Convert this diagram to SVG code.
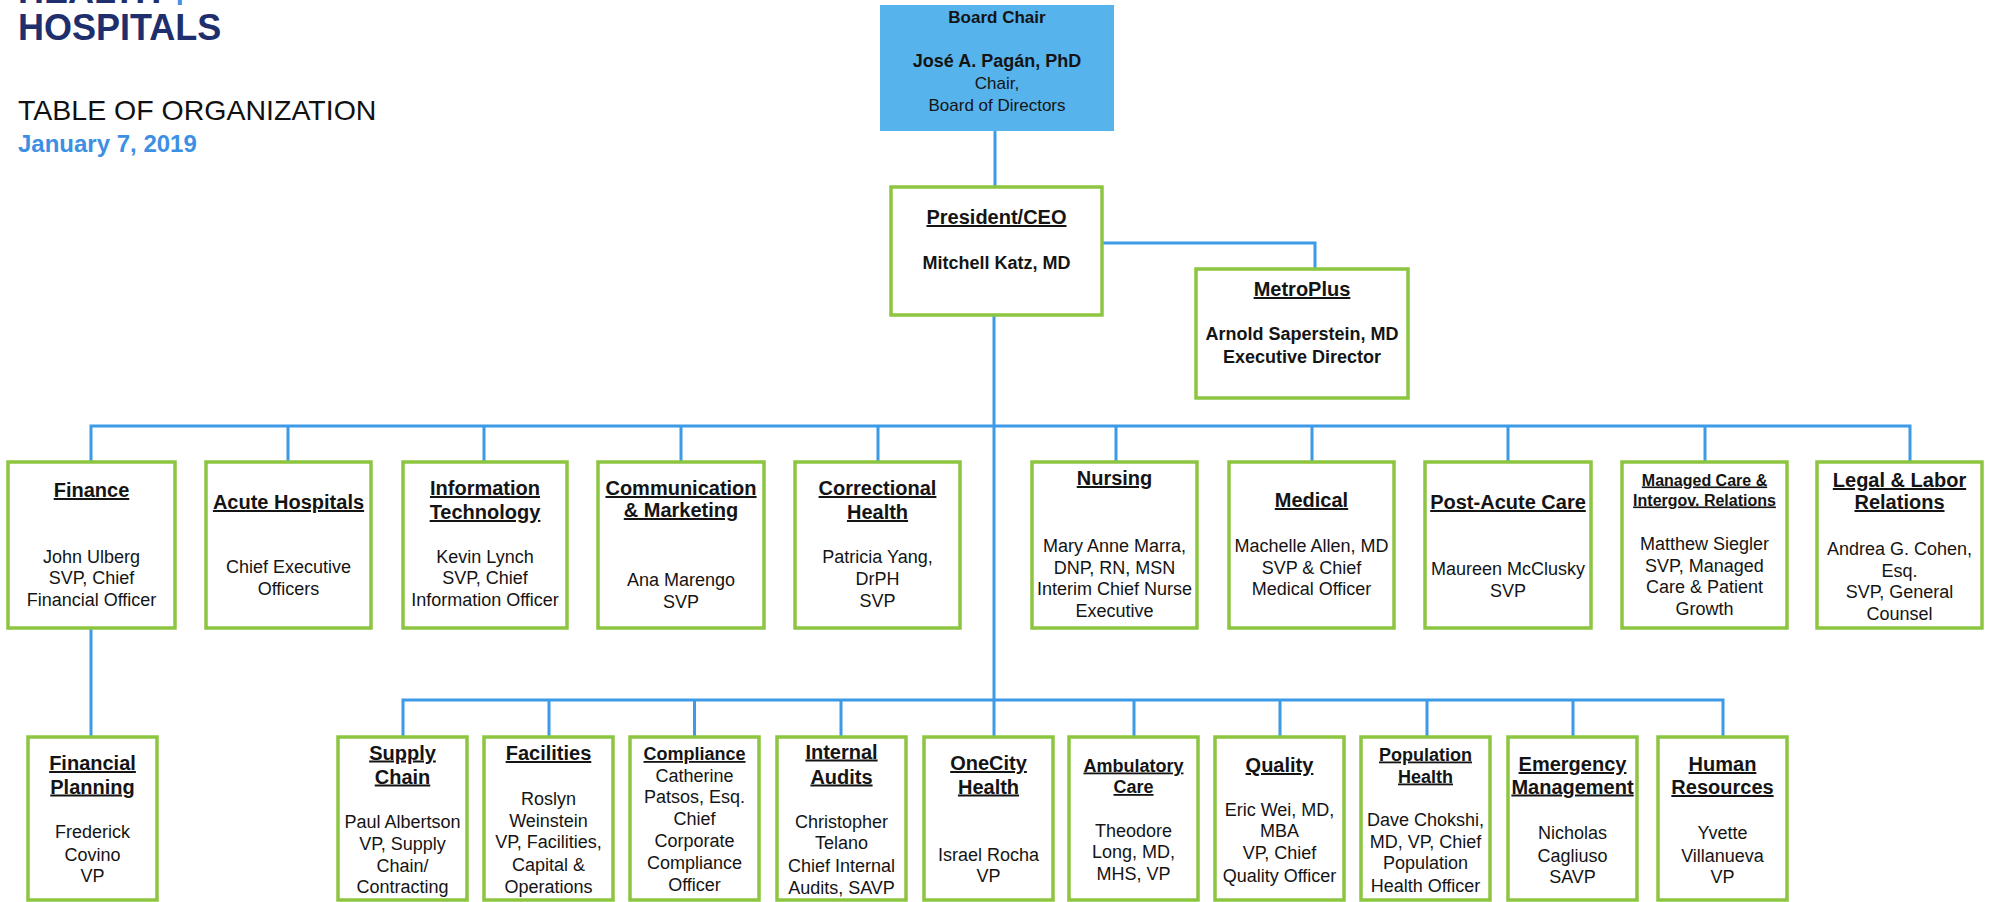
<svg xmlns="http://www.w3.org/2000/svg" width="1992" height="902" viewBox="0 0 1992 902">
<style>
text{font-family:"Liberation Sans",Arial,Helvetica,sans-serif;fill:#141414;text-anchor:middle}
.box{fill:#ffffff;stroke:#8cc540;stroke-width:3.5}
.board{fill:#56b3ec;stroke:none}
.t{font-size:20px;font-weight:bold;text-decoration:underline}
.ts{font-size:18px;font-weight:bold;text-decoration:underline}
.tm{font-size:16px;font-weight:bold;text-decoration:underline}
.n{font-size:18px}
.nb{font-size:18px;font-weight:bold}
.conn{stroke:#3d9ae8;stroke-width:3;fill:none}
</style>
<rect width="1992" height="902" fill="#ffffff"/>
<g id="header">
<text x="18" y="3" style="text-anchor:start;font-size:36px;font-weight:bold;fill:#1f2e6d">HEALTH<tspan dx="8" dy="5" style="fill:#4a90e2">+</tspan></text>
<text x="18" y="40" style="text-anchor:start;font-size:36px;font-weight:bold;fill:#1f2e6d">HOSPITALS</text>
<text x="18" y="120" style="text-anchor:start;font-size:28.5px;fill:#111">TABLE OF ORGANIZATION</text>
<text x="18" y="152" style="text-anchor:start;font-size:24px;font-weight:bold;fill:#3d8fe3">January 7, 2019</text>
</g>
<g id="connectors">
<path class="conn" d="M995 131V187"/>
<path class="conn" d="M1102 243H1315V269"/>
<path class="conn" d="M994 315V737"/>
<path class="conn" d="M91 462V426H1910V462"/>
<path class="conn" d="M288 426V462M484 426V462M681 426V462M878 426V462M1116 426V462M1312 426V462M1508 426V462M1705 426V462"/>
<path class="conn" d="M91 628V737"/>
<path class="conn" d="M403 737V700H1723V737"/>
<path class="conn" d="M549 700V737M694.5 700V737M841 700V737M1134 700V737M1280 700V737M1427 700V737M1573 700V737"/>
</g>
<g id="board">
<rect class="board" x="880" y="5" width="234" height="126"/>
<text x="997" y="23" style="font-size:17px;font-weight:bold">Board Chair</text>
<text x="997" y="67" class="nb">José A. Pagán, PhD</text>
<text x="997" y="89" style="font-size:17px">Chair,</text>
<text x="997" y="111" style="font-size:17px">Board of Directors</text>
</g>
<g id="ceo">
<rect class="box" x="891" y="187" width="211" height="128"/>
<text x="996.5" y="224" class="t">President/CEO</text>
<text x="996.5" y="269" class="nb">Mitchell Katz, MD</text>
</g>
<g id="metroplus">
<rect class="box" x="1196" y="269" width="212" height="129"/>
<text x="1302" y="296" class="t">MetroPlus</text>
<text x="1302" y="340" class="nb">Arnold Saperstein, MD</text>
<text x="1302" y="363" class="nb">Executive Director</text>
</g>
<g id="finance">
<rect class="box" x="8" y="462" width="167" height="166"/>
<text x="91.5" y="497" class="t">Finance</text>
<text x="91.5" y="563" class="n">John Ulberg</text>
<text x="91.5" y="584" class="n">SVP, Chief</text>
<text x="91.5" y="606" class="n">Financial Officer</text>
</g>
<g id="acute">
<rect class="box" x="206" y="462" width="165" height="166"/>
<text x="288.5" y="509" class="t">Acute Hospitals</text>
<text x="288.5" y="573" class="n">Chief Executive</text>
<text x="288.5" y="594.5" class="n">Officers</text>
</g>
<g id="it">
<rect class="box" x="403" y="462" width="164" height="166"/>
<text x="485" y="495" class="t">Information</text>
<text x="485" y="519" class="t">Technology</text>
<text x="485" y="563" class="n">Kevin Lynch</text>
<text x="485" y="584" class="n">SVP, Chief</text>
<text x="485" y="606" class="n">Information Officer</text>
</g>
<g id="communication">
<rect class="box" x="598" y="462" width="166" height="166"/>
<text x="681" y="495" class="t">Communication</text>
<text x="681" y="517" class="t">&amp; Marketing</text>
<text x="681" y="586" class="n">Ana Marengo</text>
<text x="681" y="608" class="n">SVP</text>
</g>
<g id="correctional">
<rect class="box" x="795" y="462" width="165" height="166"/>
<text x="877.5" y="495" class="t">Correctional</text>
<text x="877.5" y="519" class="t">Health</text>
<text x="877.5" y="563" class="n">Patricia Yang,</text>
<text x="877.5" y="585" class="n">DrPH</text>
<text x="877.5" y="607" class="n">SVP</text>
</g>
<g id="nursing">
<rect class="box" x="1032" y="462" width="165" height="166"/>
<text x="1114.5" y="485" class="t">Nursing</text>
<text x="1114.5" y="551.5" class="n">Mary Anne Marra,</text>
<text x="1114.5" y="574" class="n">DNP, RN, MSN</text>
<text x="1114.5" y="595" class="n">Interim Chief Nurse</text>
<text x="1114.5" y="617" class="n">Executive</text>
</g>
<g id="medical">
<rect class="box" x="1229" y="462" width="165" height="166"/>
<text x="1311.5" y="507" class="t">Medical</text>
<text x="1311.5" y="552" class="n">Machelle Allen, MD</text>
<text x="1311.5" y="574" class="n">SVP &amp; Chief</text>
<text x="1311.5" y="595" class="n">Medical Officer</text>
</g>
<g id="postacute">
<rect class="box" x="1425" y="462" width="166" height="166"/>
<text x="1508" y="509" class="t">Post-Acute Care</text>
<text x="1508" y="575" class="n">Maureen McClusky</text>
<text x="1508" y="596.5" class="n">SVP</text>
</g>
<g id="managedcare">
<rect class="box" x="1622" y="462" width="165" height="166"/>
<text x="1704.5" y="485.5" class="tm">Managed Care &amp;</text>
<text x="1704.5" y="505.5" class="tm">Intergov. Relations</text>
<text x="1704.5" y="550" class="n">Matthew Siegler</text>
<text x="1704.5" y="571.5" class="n">SVP, Managed</text>
<text x="1704.5" y="593" class="n">Care &amp; Patient</text>
<text x="1704.5" y="614.5" class="n">Growth</text>
</g>
<g id="legal">
<rect class="box" x="1817" y="462" width="165" height="166"/>
<text x="1899.5" y="487" class="t">Legal &amp; Labor</text>
<text x="1899.5" y="509" class="t">Relations</text>
<text x="1899.5" y="555" class="n">Andrea G. Cohen,</text>
<text x="1899.5" y="576.5" class="n">Esq.</text>
<text x="1899.5" y="598" class="n">SVP, General</text>
<text x="1899.5" y="620" class="n">Counsel</text>
</g>
<g id="financialplanning">
<rect class="box" x="28" y="737" width="129" height="163"/>
<text x="92.5" y="770" class="t">Financial</text>
<text x="92.5" y="793.5" class="t">Planning</text>
<text x="92.5" y="838" class="n">Frederick</text>
<text x="92.5" y="860.5" class="n">Covino</text>
<text x="92.5" y="882" class="n">VP</text>
</g>
<g id="supplychain">
<rect class="box" x="338" y="737" width="129" height="163"/>
<text x="402.5" y="759.5" class="t">Supply</text>
<text x="402.5" y="783.5" class="t">Chain</text>
<text x="402.5" y="828" class="n">Paul Albertson</text>
<text x="402.5" y="850" class="n">VP, Supply</text>
<text x="402.5" y="871.5" class="n">Chain/</text>
<text x="402.5" y="893" class="n">Contracting</text>
</g>
<g id="facilities">
<rect class="box" x="484" y="737" width="129" height="163"/>
<text x="548.5" y="760" class="t">Facilities</text>
<text x="548.5" y="805" class="n">Roslyn</text>
<text x="548.5" y="826.5" class="n">Weinstein</text>
<text x="548.5" y="848" class="n">VP, Facilities,</text>
<text x="548.5" y="870.5" class="n">Capital &amp;</text>
<text x="548.5" y="892.5" class="n">Operations</text>
</g>
<g id="compliance">
<rect class="box" x="630" y="737" width="129" height="163"/>
<text x="694.5" y="760" class="ts">Compliance</text>
<text x="694.5" y="781.5" class="n">Catherine</text>
<text x="694.5" y="803" class="n">Patsos, Esq.</text>
<text x="694.5" y="825" class="n">Chief</text>
<text x="694.5" y="847" class="n">Corporate</text>
<text x="694.5" y="869" class="n">Compliance</text>
<text x="694.5" y="891" class="n">Officer</text>
</g>
<g id="internalaudits">
<rect class="box" x="777" y="737" width="129" height="163"/>
<text x="841.5" y="758.5" class="t">Internal</text>
<text x="841.5" y="783.5" class="t">Audits</text>
<text x="841.5" y="828" class="n">Christopher</text>
<text x="841.5" y="849" class="n">Telano</text>
<text x="841.5" y="871.5" class="n">Chief Internal</text>
<text x="841.5" y="894" class="n">Audits, SAVP</text>
</g>
<g id="onecity">
<rect class="box" x="924" y="737" width="129" height="163"/>
<text x="988.5" y="770" class="t">OneCity</text>
<text x="988.5" y="793.5" class="t">Health</text>
<text x="988.5" y="860.5" class="n">Israel Rocha</text>
<text x="988.5" y="881.5" class="n">VP</text>
</g>
<g id="ambulatory">
<rect class="box" x="1069" y="737" width="129" height="163"/>
<text x="1133.5" y="771.5" class="ts">Ambulatory</text>
<text x="1133.5" y="793" class="ts">Care</text>
<text x="1133.5" y="836.5" class="n">Theodore</text>
<text x="1133.5" y="858" class="n">Long, MD,</text>
<text x="1133.5" y="880" class="n">MHS, VP</text>
</g>
<g id="quality">
<rect class="box" x="1215" y="737" width="129" height="163"/>
<text x="1279.5" y="772" class="t">Quality</text>
<text x="1279.5" y="816" class="n">Eric Wei, MD,</text>
<text x="1279.5" y="837" class="n">MBA</text>
<text x="1279.5" y="859" class="n">VP, Chief</text>
<text x="1279.5" y="881.5" class="n">Quality Officer</text>
</g>
<g id="populationhealth">
<rect class="box" x="1361" y="737" width="129" height="163"/>
<text x="1425.5" y="760.5" class="ts">Population</text>
<text x="1425.5" y="782.5" class="ts">Health</text>
<text x="1425.5" y="826" class="n">Dave Chokshi,</text>
<text x="1425.5" y="847.5" class="n">MD, VP, Chief</text>
<text x="1425.5" y="869" class="n">Population</text>
<text x="1425.5" y="891.5" class="n">Health Officer</text>
</g>
<g id="emergency">
<rect class="box" x="1508" y="737" width="129" height="163"/>
<text x="1572.5" y="771" class="t">Emergency</text>
<text x="1572.5" y="793.5" class="t">Management</text>
<text x="1572.5" y="839" class="n">Nicholas</text>
<text x="1572.5" y="861.5" class="n">Cagliuso</text>
<text x="1572.5" y="883" class="n">SAVP</text>
</g>
<g id="humanresources">
<rect class="box" x="1658" y="737" width="129" height="163"/>
<text x="1722.5" y="771" class="t">Human</text>
<text x="1722.5" y="794" class="t">Resources</text>
<text x="1722.5" y="839" class="n">Yvette</text>
<text x="1722.5" y="861.5" class="n">Villanueva</text>
<text x="1722.5" y="882.5" class="n">VP</text>
</g>
</svg>
